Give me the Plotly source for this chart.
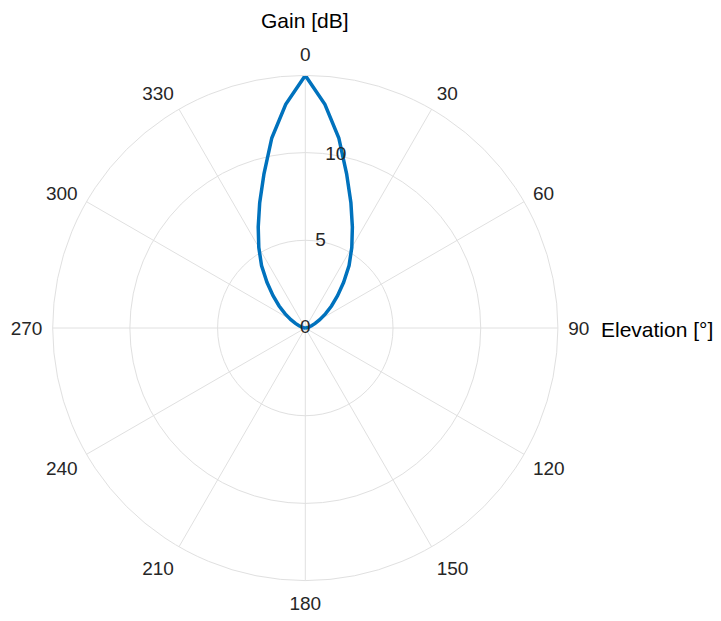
import plotly.graph_objects as go

# Data
elevation_deg = [-90, -85, -80, -75, -70, -65, -60, -55, -50, -45, -40, -35, -30,
                 -25, -20, -15, -10, -5, 0, 5, 10, 15, 20, 25, 30, 35, 40, 45,
                 50, 55, 60, 65, 70, 75, 80, 85, 90]
gain_db = [0.0, 0.02, 0.08, 0.2, 0.38, 0.62, 0.95, 1.4, 1.95, 2.6, 3.4, 4.35, 5.3,
           6.35, 7.6, 9.1, 11.0, 12.8, 14.4, 12.8, 11.0, 9.1, 7.6, 6.35, 5.3, 4.35,
           3.4, 2.6, 1.95, 1.4, 0.95, 0.62, 0.38, 0.2, 0.08, 0.02, 0.0]

theta_ticks = list(range(0, 360, 30))
theta_ticktext = [str(t) for t in theta_ticks]
r_ticks = [0, 5, 10]
r_tick_angle = [10, 10, 10]
r_max = 14.4

W, H = 721, 621
cx, cy, R = 305.3, 328.0, 252.6

fig = go.Figure()
fig.add_trace(go.Scatterpolar(
    r=gain_db, theta=elevation_deg, mode="lines",
    line=dict(color="#0072BD", width=3.5),
    showlegend=False, hoverinfo="skip"))
fig.add_trace(go.Scatterpolar(
    r=r_ticks, theta=r_tick_angle, mode="text",
    text=[str(v) for v in r_ticks], textposition="middle center",
    textfont=dict(family="Liberation Sans, Arial, sans-serif", size=19, color="#262626"),
    showlegend=False, hoverinfo="skip", cliponaxis=False))

grid = "#e0e0e0"
fig.update_layout(
    template="none",
    width=W, height=H,
    margin=dict(l=0, r=0, t=0, b=0),
    paper_bgcolor="white",
    font=dict(family="Liberation Sans, Arial, sans-serif", size=19, color="#262626"),
    polar=dict(
        domain=dict(x=[(cx - R) / W, (cx + R) / W],
                    y=[1 - (cy + R) / H, 1 - (cy - R) / H]),
        bgcolor="white",
        angularaxis=dict(
            rotation=90, direction="clockwise",
            tickmode="array", tickvals=theta_ticks, ticktext=theta_ticktext,
            ticks="outside", ticklen=6, tickcolor="rgba(0,0,0,0)",
            showline=True, linecolor=grid, linewidth=1,
            showgrid=True, gridcolor=grid, gridwidth=1,
            tickfont=dict(size=19, color="#262626")),
        radialaxis=dict(
            range=[0, r_max], tickmode="array", tickvals=[5, 10],
            showticklabels=False, ticks="", showline=False,
            showgrid=True, gridcolor=grid, gridwidth=1)),
    annotations=[
        dict(text="Gain [dB]", x=cx / W, y=1 - 20 / H, xref="paper", yref="paper",
             xanchor="center", yanchor="middle", showarrow=False,
             font=dict(size=21, color="black")),
        dict(text="Elevation [°]", x=599 / W, y=1 - 329 / H, xref="paper", yref="paper",
             xanchor="left", yanchor="middle", showarrow=False,
             font=dict(size=21, color="black")),
    ],
)

fig.write_html("out.html", config={"displayModeBar": False},
               post_script="document.body.style.margin='0';document.body.style.overflow='hidden';")
